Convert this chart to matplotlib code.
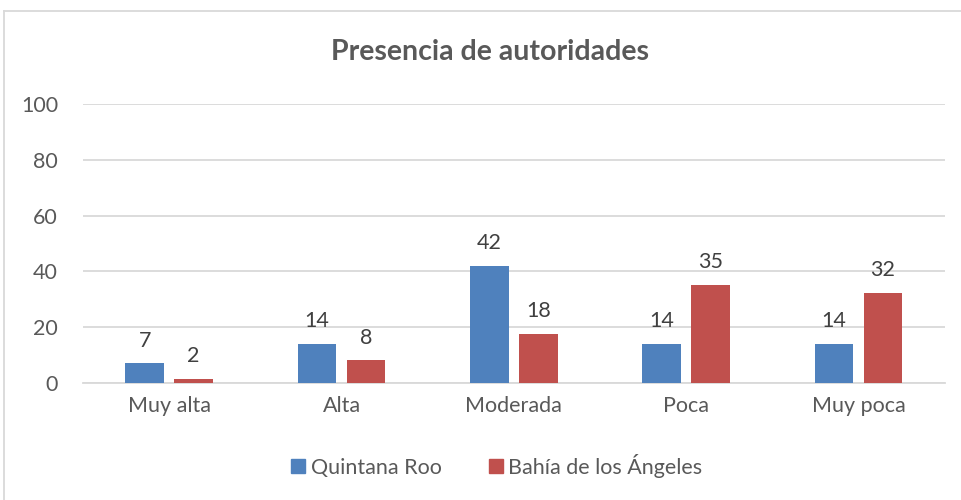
import numpy as np
import matplotlib.pyplot as plt
from matplotlib.lines import Line2D

categories = ['Muy alta', 'Alta', 'Moderada', 'Poca', 'Muy poca']
quintana_roo = [7.0, 14.0, 42.1, 14.0, 14.0]
bahia_angeles = [1.6, 8.1, 17.7, 35.3, 32.3]
series_names = ['Quintana Roo', 'Bahía de los Ángeles']

plt.rcParams['font.family'] = ['Lato', 'DejaVu Sans']

fig = plt.figure(figsize=(9.61, 5), dpi=100)
ax = fig.add_axes([0.0864, 0.234, 0.8966, 0.558])

x = np.arange(len(categories))
w = 0.225
off = 0.142
b1 = ax.bar(x - off, quintana_roo, w, color='#4F81BD', zorder=3)
b2 = ax.bar(x + off, bahia_angeles, w, color='#C0504D', zorder=3)

for bars, vals in [(b1, quintana_roo), (b2, bahia_angeles)]:
    for rect, v in zip(bars, vals):
        ax.annotate('%d' % round(v), (rect.get_x() + rect.get_width() / 2, v),
                    xytext=(0, 9), textcoords='offset points',
                    ha='center', va='bottom', fontsize=15.5, color='#404040')

ax.set_xlim(-0.5, 4.5)
ax.set_ylim(0, 100)
ax.set_yticks(range(0, 101, 20))
ax.set_xticks(x)
ax.set_xticklabels(categories)
ax.tick_params(length=0, labelsize=15.5, labelcolor='#595959')
ax.tick_params(axis='y', pad=18)
ax.tick_params(axis='x', pad=9)
ax.grid(axis='y', color='#D9D9D9', linewidth=1.3, zorder=0)
for s in ['top', 'right', 'left']:
    ax.spines[s].set_visible(False)
ax.spines['bottom'].set_color('#D9D9D9')
ax.spines['bottom'].set_linewidth(1.3)

fig.text(0.51, 0.896, 'Presencia de autoridades', ha='center', va='center',
         fontsize=20.5, fontweight='bold', color='#595959')

handles = [Line2D([], [], marker='s', linestyle='none', markersize=10, color=c)
           for c in ['#4F81BD', '#C0504D']]
fig.legend(handles, series_names, loc='center', bbox_to_anchor=(0.515, 0.068),
           ncol=2, frameon=False, fontsize=15.5, labelcolor='#595959',
           handletextpad=0.1, columnspacing=2.0, handlelength=1.0)

# chart border (left and top visible)
fig.add_artist(Line2D([4 / 961, 4 / 961], [0, 1 - 11 / 500], color='#D9D9D9', lw=1.3))
fig.add_artist(Line2D([4 / 961, 1], [1 - 11 / 500, 1 - 11 / 500], color='#D9D9D9', lw=1.3))

fig.savefig('out.png', dpi=100)
